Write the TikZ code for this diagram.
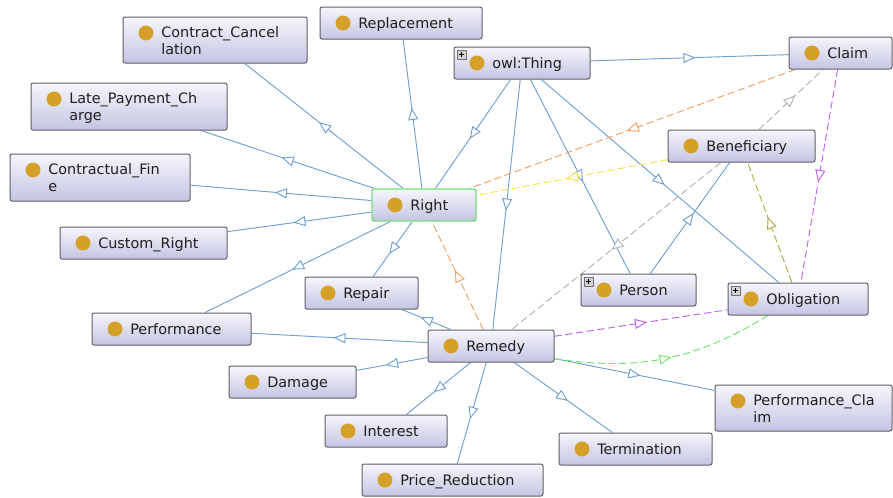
\documentclass[tikz,border=0pt]{standalone}
\usepackage{fontspec}
\newfontfamily\dejavu{DejaVu Sans}
\usetikzlibrary{arrows.meta,decorations.markings,fit}

\definecolor{edgeblue}{RGB}{112,160,208}
\definecolor{propOrange}{RGB}{240,160,100}
\definecolor{propYellow}{RGB}{248,226,70}
\definecolor{propGray}{RGB}{178,178,178}
\definecolor{propPurple}{RGB}{196,96,240}
\definecolor{propOlive}{RGB}{176,172,60}
\definecolor{propGreen}{RGB}{112,224,112}
\definecolor{boxBorder}{RGB}{96,96,102}
\definecolor{boxTop}{RGB}{246,246,252}
\definecolor{boxBottom}{RGB}{196,196,226}
\definecolor{dotGold}{RGB}{212,160,40}
\definecolor{selGreen}{RGB}{120,222,120}

\pgfdeclarelayer{canvas}
\pgfdeclarelayer{edges}
\pgfsetlayers{canvas,edges,main}

\tikzset{
  clsbox/.style={draw=boxBorder, line width=0.75pt, rounded corners=1.5pt,
    top color=boxTop, bottom color=boxBottom, inner sep=0pt},
  lbl/.style={anchor=north west, inner sep=0pt, align=left, yshift=8.715pt,
    text=black!88, font=\dejavu\fontsize{10.8}{12.45}\selectfont,
    execute at begin node=\strut},
  isa/.style={draw=edgeblue, line width=0.7pt, postaction={decorate},
    decoration={markings, mark=at position 0.5 with
      {\arrow[xshift=4.5pt]{Triangle[length=9pt,width=7.5pt,fill=white]}}}},
  prop/.style={isa, dash pattern=on 5.5pt off 2.6pt},
}

% class box: [extra style] name, left, top, right, bottom, label
\newcommand\owlcls[7][]{%
  \node[clsbox, fit={(#3,#4) (#5,#6)}, #1] (#2) {};
  \fill[dotGold] (#3+23,#4+16) circle[radius=5.6pt];
  \node[lbl] (#2-label) at (#3+38,#4+21) {#7};
}
% small "expand" marker in the top-left corner of a box
\newcommand\expander[2]{%
  \draw[draw=black!55, fill=black!18, line width=0.5pt] (#1+3,#2+3) rectangle (#1+12,#2+12);
  \draw[line width=0.8pt] (#1+5,#2+7.5) -- (#1+10,#2+7.5) (#1+7.5,#2+5) -- (#1+7.5,#2+10);
}

\begin{document}
\begin{tikzpicture}[x=0.75pt, y=-0.75pt]
  \begin{pgfonlayer}{canvas}
    \fill[white] (0,0) rectangle (893,497);
  \end{pgfonlayer}
  \useasboundingbox (0,0) rectangle (893,497);

  \owlcls{cc}{123}{17}{307}{63}{Contract\_Cancel\\lation}
  \owlcls{rep}{320}{7}{482}{39}{Replacement}
  \owlcls{thing}{454}{47}{590}{79}{owl:Thing}
  \expander{454}{47}
  \owlcls{claim}{789}{37}{892}{69}{Claim}
  \owlcls{lpc}{31}{83}{227}{130}{Late\_Payment\_Ch\\arge}
  \owlcls{cf}{10}{154}{190}{201}{Contractual\_Fin\\e}
  \owlcls{cr}{60}{227}{227}{259}{Custom\_Right}
  \owlcls[draw=selGreen, line width=1pt]{right}{372}{189}{476}{221}{Right}
  \owlcls{ben}{668}{130}{815}{162}{Beneficiary}
  \owlcls{person}{581}{274}{696}{306}{Person}
  \expander{581}{274}
  \owlcls{obl}{728}{283}{868}{315}{Obligation}
  \expander{728}{283}
  \owlcls{repair}{305}{277}{418}{309}{Repair}
  \owlcls{perf}{92}{313}{251}{345}{Performance}
  \owlcls{remedy}{428}{330}{554}{362}{Remedy}
  \owlcls{dmg}{229}{366}{356}{398}{Damage}
  \owlcls{interest}{325}{415}{447}{447}{Interest}
  \owlcls{pr}{362}{464}{543}{496}{Price\_Reduction}
  \owlcls{pc}{715}{385}{892}{431}{Performance\_Cla\\im}
  \owlcls{term}{559}{433}{712}{465}{Termination}

  \begin{pgfonlayer}{edges}
    % subclass links
    \draw[isa] (right) -- (cc);
    \draw[isa] (right) -- (lpc);
    \draw[isa] (right) -- (cf);
    \draw[isa] (right) -- (cr);
    \draw[isa] (right) -- (rep);
    \draw[isa] (right) -- (perf);
    \draw[isa] (right) -- (repair);
    \draw[isa] (thing) -- (right);
    \draw[isa] (thing) -- (claim);
    \draw[isa] (thing) -- (remedy);
    \draw[isa] (thing) -- (person);
    \draw[isa] (thing) -- (obl);
    \draw[isa] (person) -- (ben);
    \draw[isa] (remedy) -- (repair);
    \draw[isa] (remedy) -- (perf);
    \draw[isa] (remedy) -- (dmg);
    \draw[isa] (remedy) -- (interest);
    \draw[isa] (remedy) -- (pr);
    \draw[isa] (remedy) -- (term);
    \draw[isa] (remedy) -- (pc);
    % object property links
    \draw[prop, draw=propOrange] (claim) -- (right);
    \draw[prop, draw=propOrange] (remedy) -- (right);
    \draw[prop, draw=propYellow] (ben) -- (right);
    \draw[prop, draw=propGray] (ben) -- (claim);
    \draw[prop, draw=propGray] (ben) -- (remedy);
    \draw[prop, draw=propPurple] (claim) -- (obl);
    \draw[prop, draw=propPurple] (remedy) -- (obl);
    \draw[prop, draw=propOlive] (obl) -- (ben);
    \draw[prop, draw=propGreen] (remedy) to[bend right=20] (obl);
  \end{pgfonlayer}
\end{tikzpicture}
\end{document}
